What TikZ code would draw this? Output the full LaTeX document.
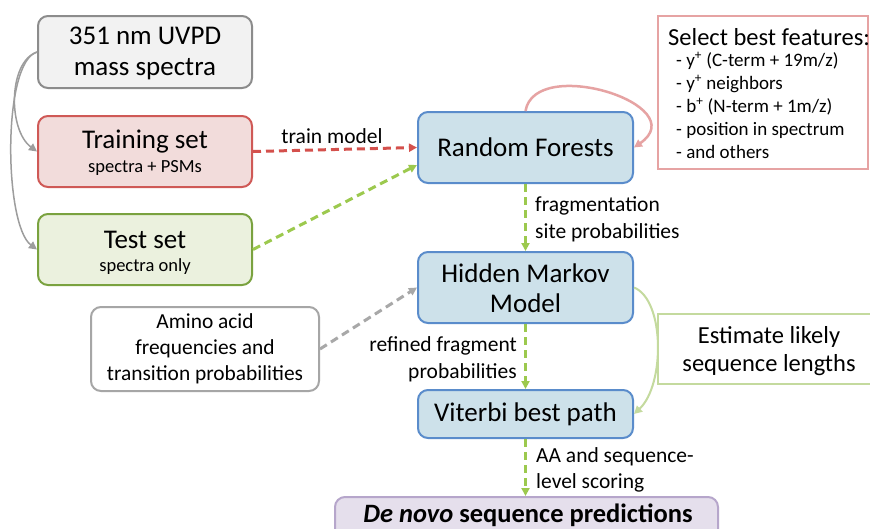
\documentclass[tikz,border=0pt]{standalone}
\usepackage{fontspec}
\setmainfont{Carlito}
\usetikzlibrary{arrows.meta}
\definecolor{gfill}{HTML}{F2F2F2}
\definecolor{gdraw}{HTML}{8C8C8C}
\definecolor{rfill}{HTML}{F2DCDB}
\definecolor{rdraw}{HTML}{CF5956}
\definecolor{tfill}{HTML}{EBF1DE}
\definecolor{tdraw}{HTML}{7AA23F}
\definecolor{bfill}{HTML}{CDE1EA}
\definecolor{bdraw}{HTML}{5A8CCB}
\definecolor{pdraw}{HTML}{E6A3A3}
\definecolor{ldraw}{HTML}{C4DA9E}
\definecolor{adraw}{HTML}{A6A6A6}
\definecolor{vfill}{HTML}{E5DFEC}
\definecolor{vdraw}{HTML}{B6A6CB}
\definecolor{garrow}{HTML}{9CC94E}
\definecolor{rarrow}{HTML}{D4504C}
\definecolor{darrow}{HTML}{A8A8A8}
\tikzset{
  x=1pt, y=1pt,
  box/.style={rectangle, rounded corners=10pt, line width=2pt, inner sep=0pt},
  big/.style={font=\fontsize{27}{31}\selectfont},
  small/.style={font=\fontsize{18.5}{22}\selectfont},
  lab/.style={font=\fontsize{21.5}{27}\selectfont, inner sep=0pt},
  tip/.style={-{Triangle[length=8pt,width=8pt]}},
  dasharrow/.style={tip, line width=3pt, dash pattern=on 8pt off 5pt},
}
\begin{document}
\begin{tikzpicture}
\clip (0,0) rectangle (870,-528);
\fill[white] (0,0) rectangle (870,-528);
% boxes
\node[box, draw=gdraw, fill=gfill, minimum width=214, minimum height=72] (uvpd) at (145,-52) {};
\node[big, align=center] (uvpdt) at (145,-53) {351 nm UVPD\\mass spectra};
\node[box, draw=rdraw, fill=rfill, minimum width=214, minimum height=71] (train) at (145,-151.5) {};
\node[big] (traint) at (145,-142) {Training set};
\node[small] (trains) at (145,-168) {spectra + PSMs};
\node[box, draw=tdraw, fill=tfill, minimum width=214, minimum height=71] (test) at (145,-249.5) {};
\node[big] (testt) at (145,-240) {Test set};
\node[small] (tests) at (145,-267) {spectra only};
\node[box, draw=bdraw, fill=bfill, minimum width=215, minimum height=71, big] (rf) at (525.5,-147.5) {Random Forests};
\node[box, draw=bdraw, fill=bfill, minimum width=215, minimum height=71] (hmm) at (525.5,-287.5) {};
\node[big, align=center, font=\fontsize{27}{30}\selectfont] (hmmt) at (525.5,-288) {Hidden Markov\\Model};
\node[box, draw=bdraw, fill=bfill, minimum width=215, minimum height=48, big] (vit) at (525.5,-414) {Viterbi best path};
\node[box, draw=vdraw, fill=vfill, minimum width=383, minimum height=70, anchor=north] (denovo) at (526.5,-496) {};
\node[font=\fontsize{26.5}{30}\selectfont\bfseries] (denovot) at (528,-515.5) {\textit{De novo} sequence predictions};
\node[box, draw=adraw, fill=white, minimum width=228, minimum height=84, align=center, font=\fontsize{21.4}{26}\selectfont] (amino) at (205,-349) {Amino acid\\frequencies and\\transition probabilities};
\draw[pdraw, line width=2pt, fill=white] (658,-16) rectangle (868,-169);
\node[rectangle, inner sep=0pt, minimum width=210, minimum height=153, anchor=north west] (feat) at (658,-16) {};
\node[anchor=west, font=\fontsize{24.5}{26}\selectfont, inner sep=0pt] (feath) at (668,-37) {Select best features:};
\node[anchor=north west, align=left, inner sep=0pt, font=\fontsize{19}{23}\selectfont] (featl) at (676,-52) {- y\textsuperscript{+} (C-term + 19m/z)\\- y\textsuperscript{+} neighbors\\- b\textsuperscript{+} (N-term + 1m/z)\\- position in spectrum\\- and others};
\draw[ldraw, line width=2pt, fill=white] (658,-314) rectangle (885,-384);
\node[rectangle, inner sep=0pt, minimum width=227, minimum height=70, anchor=north west] (est) at (658,-314) {};
\node[align=center, font=\fontsize{24.5}{28}\selectfont] (estt) at (769,-351) {Estimate likely\\sequence lengths};
% connectors
\draw[gdraw!85, line width=1.5pt, tip] (uvpd.west) .. controls (8,-62) and (8,-130) .. (train.west);
\draw[gdraw!85, line width=1.5pt, tip] (uvpd.west) .. controls (2,-62) and (4,-225) .. (test.west);
\draw[rarrow, dasharrow] (train.east) -- (rf.west);
\draw[garrow, dasharrow] (test.east) -- ([yshift=-17.5]rf.west);
\draw[pdraw, line width=2.5pt, tip] (rf.north) .. controls (535,-55) and (695,-105) .. (rf.east);
\draw[garrow, dasharrow] (rf.south) -- (hmm.north);
\draw[darrow, dasharrow] (amino.east) -- (hmm.west);
\draw[garrow, dasharrow] (hmm.south) -- (vit.north);
\draw[ldraw, line width=2pt, tip] (hmm.east) .. controls (665,-300) and (665,-385) .. (vit.east);
\draw[garrow, dasharrow] (vit.south) -- (vit.south |- denovo.north);
% labels
\node[lab] (trainlab) at (332,-136) {train model};
\node[lab, anchor=west, align=left] (fraglab) at (535,-219) {fragmentation\\site probabilities};
\node[lab, anchor=east, align=right] (reflab) at (517,-359) {refined fragment\\probabilities};
\node[lab, anchor=west, align=left, font=\fontsize{21.5}{26}\selectfont] (aalab) at (536,-470) {AA and sequence-\\level scoring};
\end{tikzpicture}
\end{document}
